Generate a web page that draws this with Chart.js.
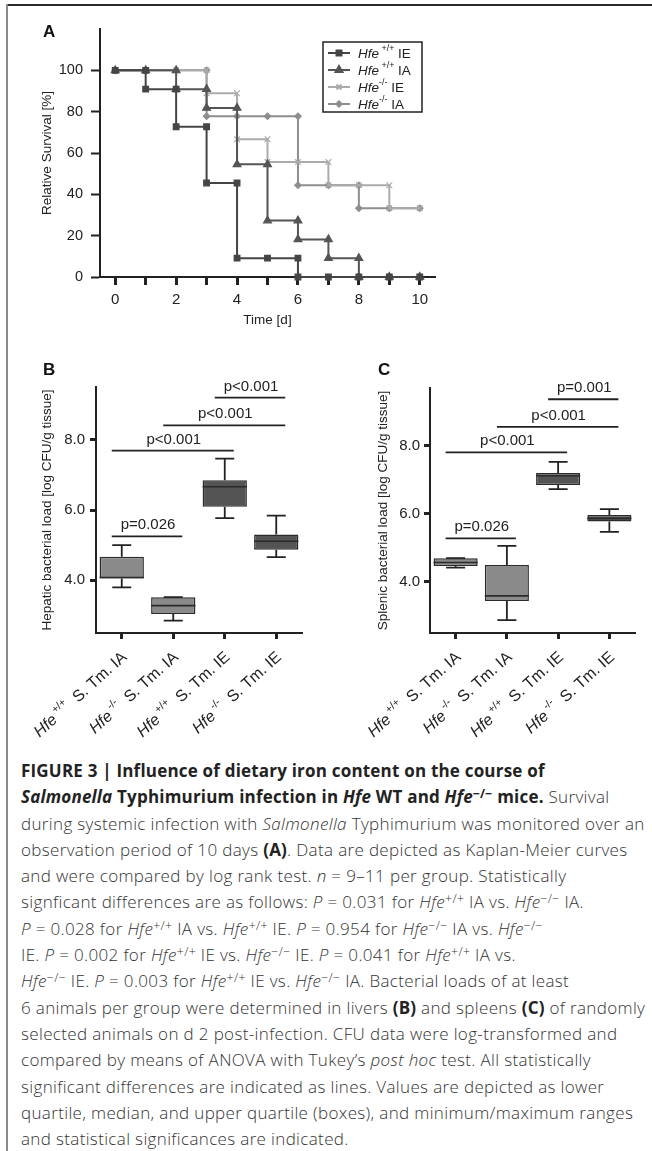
<!DOCTYPE html>
<html>
<head>
<meta charset="utf-8">
<script src="https://cdn.jsdelivr.net/npm/chart.js@4.4.1/dist/chart.umd.min.js"></script>
<style>
  html, body { margin: 0; padding: 0; background: #fff; }
  body { width: 652px; height: 1151px; overflow: hidden; position: relative; }
  .rule { position: absolute; z-index: 5; }
  canvas { position: absolute; }
  .panel { position: absolute; font: bold 17px "Liberation Sans", Arial, sans-serif; color: #111; line-height: 1; }
  #caption { position: absolute; left: 21px; top: 758px; font: 300 17px "Open Sans", sans-serif; line-height: 26.3px;
             letter-spacing: 0.35px; color: #333; white-space: nowrap; }
  #caption b { font-weight: 700; color: #222; letter-spacing: 0.2px; }
  #caption sup { font-size: 0.72em; line-height: 0; vertical-align: 0.45em; }
</style>
</head>
<body>
<canvas id="surv" width="460" height="340" style="left:0;top:0"></canvas>
<canvas id="hep" width="320" height="420" style="left:0;top:330px"></canvas>
<canvas id="spl" width="332" height="420" style="left:320px;top:330px"></canvas>
<div class="rule" style="left:6px;top:4px;width:646px;height:2px;background:#2a2a2a"></div>
<div class="rule" style="left:6px;top:4px;width:2px;height:1147px;background:#8a8a8a"></div>
<div class="panel" style="left:43px;top:23px">A</div>
<div class="panel" style="left:43px;top:361px">B</div>
<div class="panel" style="left:378px;top:361px">C</div>

<div id="caption">
<b>FIGURE 3 | Influence of dietary iron content on the course of</b><br>
<b><i>Salmonella</i> Typhimurium infection in <i>Hfe</i> WT and <i>Hfe</i><sup>−/−</sup> mice.</b> Survival<br>
during systemic infection with <i>Salmonella</i> Typhimurium was monitored over an<br>
observation period of 10 days <b>(A)</b>. Data are depicted as Kaplan-Meier curves<br>
and were compared by log rank test. <i>n</i> = 9–11 per group. Statistically<br>
signficant differences are as follows: <i>P</i> = 0.031 for <i>Hfe</i><sup>+/+</sup> IA vs. <i>Hfe</i><sup>−/−</sup> IA.<br>
<i>P</i> = 0.028 for <i>Hfe</i><sup>+/+</sup> IA vs. <i>Hfe</i><sup>+/+</sup> IE. <i>P</i> = 0.954 for <i>Hfe</i><sup>−/−</sup> IA vs. <i>Hfe</i><sup>−/−</sup><br>
IE. <i>P</i> = 0.002 for <i>Hfe</i><sup>+/+</sup> IE vs. <i>Hfe</i><sup>−/−</sup> IE. <i>P</i> = 0.041 for <i>Hfe</i><sup>+/+</sup> IA vs.<br>
<i>Hfe</i><sup>−/−</sup> IE. <i>P</i> = 0.003 for <i>Hfe</i><sup>+/+</sup> IE vs. <i>Hfe</i><sup>−/−</sup> IA. Bacterial loads of at least<br>
6 animals per group were determined in livers <b>(B)</b> and spleens <b>(C)</b> of randomly<br>
selected animals on d 2 post-infection. CFU data were log-transformed and<br>
compared by means of ANOVA with Tukey’s <i>post hoc</i> test. All statistically<br>
significant differences are indicated as lines. Values are depicted as lower<br>
quartile, median, and upper quartile (boxes), and minimum/maximum ranges<br>
and statistical significances are indicated.
</div>

<script>
const FONT = '"Liberation Sans", Arial, sans-serif';
Chart.defaults.font.family = FONT;
Chart.defaults.color = "#222";

// Survival (Kaplan-Meier), % alive per day
const days = [0, 1, 2, 3, 4, 5, 6, 7, 8, 9, 10];
const wtIE = [100, 90.9, 72.7, 45.5, 9.1, 9.1, 0, 0, 0, 0, 0];
const wtIA = [100, 100, 90.9, 81.8, 54.5, 27.3, 18.2, 9.1, 0, 0, 0];
const koIE = [100, 100, 100, 88.9, 66.7, 55.6, 55.6, 44.4, 44.4, 33.3, 33.3];
const koIA = [100, 100, 100, 77.8, 77.8, 77.8, 44.4, 44.4, 33.3, 33.3, 33.3];
const survTicks = [0, 20, 40, 60, 80, 100];

// Bacterial loads (log CFU/g), groups in axis order
const boxGenotype = ["+/+", "-/-", "+/+", "-/-"];
const boxDiet = ["IA", "IA", "IE", "IE"];
const loadTicks = [4, 6, 8];

const hepMin = [3.80, 2.85, 5.77, 4.66];
const hepQ1  = [4.05, 3.04, 6.09, 4.87];
const hepMed = [4.08, 3.28, 6.66, 5.11];
const hepQ3  = [4.67, 3.52, 6.85, 5.30];
const hepMax = [5.00, 3.52, 7.46, 5.84];

const splMin = [4.42, 2.88, 6.73, 5.47];
const splQ1  = [4.47, 3.44, 6.85, 5.78];
const splMed = [4.57, 3.59, 7.12, 5.87];
const splQ3  = [4.70, 4.50, 7.20, 5.97];
const splMax = [4.70, 5.06, 7.53, 6.14];

// significance bars: group from, group to, height, label
const sigFrom = [0, 0, 1, 2];
const sigTo   = [1, 2, 3, 3];
const hepSigY = [5.25, 7.69, 8.41, 9.2];
const hepSigText = ["p=0.026", "p<0.001", "p<0.001", "p<0.001"];
const splSigY = [5.28, 7.81, 8.56, 9.37];
const splSigText = ["p=0.026", "p<0.001", "p<0.001", "p=0.001"];

// draw a run of text pieces (italic / superscript) on a canvas
function richWidth(ctx, parts, size) {
  let w = 0;
  parts.forEach(p => {
    ctx.font = (p.i ? "italic " : "") + (p.sup ? size * 0.66 : size) + "px " + FONT;
    w += ctx.measureText(p.t).width;
  });
  return w;
}
function drawRich(ctx, parts, x, y, size, alignRight) {
  let cx = alignRight ? x - richWidth(ctx, parts, size) : x;
  parts.forEach(p => {
    ctx.font = (p.i ? "italic " : "") + (p.sup ? size * 0.66 : size) + "px " + FONT;
    ctx.fillText(p.t, cx, p.sup ? y - size * 0.38 : y);
    cx += ctx.measureText(p.t).width;
  });
}

function stepPoints(vals) {
  const pts = [{ x: days[0], y: vals[0] }];
  for (let i = 1; i < days.length; i++) {
    pts.push({ x: days[i], y: vals[i - 1] });
    if (vals[i] !== vals[i - 1]) pts.push({ x: days[i], y: vals[i] });
  }
  return pts;
}

const survSeries = [
  { geno: "+/+", diet: "IE", vals: wtIE, color: "#454545", style: "rect", r: 4 },
  { geno: "+/+", diet: "IA", vals: wtIA, color: "#555555", style: "triangle", r: 4.5 },
  { geno: "-/-", diet: "IE", vals: koIE, color: "#ababab", style: "crossRot", r: 4 },
  { geno: "-/-", diet: "IA", vals: koIA, color: "#8e8e8e", style: "rectRot", r: 3.2 }
];

const survLegend = {
  id: "survLegend",
  afterDraw(chart) {
    const ctx = chart.ctx;
    ctx.save();
    ctx.strokeStyle = "#222";
    ctx.lineWidth = 1.5;
    ctx.strokeRect(323, 42, 99, 70);
    survSeries.forEach((s, i) => {
      const y = 53 + i * 17;
      ctx.strokeStyle = s.color;
      ctx.fillStyle = s.color;
      ctx.lineWidth = 2;
      ctx.beginPath(); ctx.moveTo(328, y); ctx.lineTo(350, y); ctx.stroke();
      Chart.helpers.drawPoint(ctx, { pointStyle: s.style, radius: s.r - 0.5, rotation: 0, borderWidth: 1.2 }, 339, y);
      ctx.fillStyle = "#222";
      ctx.textBaseline = "middle";
      drawRich(ctx, [{ t: "Hfe", i: 1 }, { t: (s.geno === "+/+" ? " " : "") + s.geno, sup: 1 }, { t: " " + s.diet }], 358, y + 1, 13.5, false);
    });
    ctx.restore();
  }
};

new Chart(document.getElementById("surv"), {
  type: "line",
  data: {
    datasets: survSeries.map(s => ({
      data: stepPoints(s.vals),
      borderColor: s.color,
      backgroundColor: s.color,
      borderWidth: 2,
      pointStyle: s.style,
      pointRadius: s.r,
      pointBorderWidth: 1.2,
      pointBackgroundColor: s.color,
      pointBorderColor: s.color,
      tension: 0,
      clip: false
    }))
  },
  options: {
    responsive: false,
    animation: false,
    layout: { padding: { top: 29, right: 25, left: 0, bottom: 0 } },
    plugins: { legend: { display: false }, tooltip: { enabled: false } },
    scales: {
      x: {
        type: "linear", min: -0.5, max: 10.5,
        afterBuildTicks: s => { s.ticks = days.map(v => ({ value: v })); },
        ticks: { autoSkip: false, maxRotation: 0, padding: 6, font: { size: 15 }, callback: v => (v % 2 === 0 ? v : "") },
        grid: { drawOnChartArea: false, tickLength: 8, tickWidth: 3, tickColor: "#222" },
        border: { color: "#222", width: 2 },
        title: { display: true, text: "Time [d]", font: { size: 13.5 }, padding: { top: 0, bottom: 12 } },
        afterFit: s => { s.height = 63; }
      },
      y: {
        min: 0, max: 120,
        afterBuildTicks: s => { s.ticks = survTicks.map(v => ({ value: v })); },
        ticks: { padding: 8, font: { size: 14.5 } },
        grid: { drawOnChartArea: false, tickLength: 9, tickWidth: 2, tickColor: "#222" },
        border: { color: "#222", width: 2 },
        title: { display: true, text: "Relative Survival [%]", font: { size: 13.5 }, padding: { top: 39, bottom: 0 } },
        afterFit: s => { s.width = 100; }
      }
    }
  },
  plugins: [survLegend]
});

function boxChart(id, o) {
  const boxPlugin = {
    id: "boxParts",
    beforeDatasetsDraw(chart) {
      const ctx = chart.ctx, y = chart.scales.y;
      ctx.save();
      ctx.strokeStyle = "#222";
      ctx.lineWidth = 1.8;
      chart.getDatasetMeta(0).data.forEach((bar, i) => {
        const x = bar.x, top = y.getPixelForValue(o.max[i]), bot = y.getPixelForValue(o.min[i]);
        ctx.beginPath();
        ctx.moveTo(x, top); ctx.lineTo(x, y.getPixelForValue(o.q3[i]));
        ctx.moveTo(x, bot); ctx.lineTo(x, y.getPixelForValue(o.q1[i]));
        ctx.moveTo(x - 9.5, top); ctx.lineTo(x + 9.5, top);
        ctx.moveTo(x - 9.5, bot); ctx.lineTo(x + 9.5, bot);
        ctx.stroke();
      });
      ctx.restore();
    },
    afterDatasetsDraw(chart) {
      const ctx = chart.ctx, y = chart.scales.y, xs = chart.scales.x;
      ctx.save();
      ctx.strokeStyle = "#2a2a2a";
      ctx.lineWidth = 1.6;
      chart.getDatasetMeta(0).data.forEach((bar, i) => {
        const m = y.getPixelForValue(o.med[i]);
        ctx.beginPath(); ctx.moveTo(bar.x - bar.width / 2, m); ctx.lineTo(bar.x + bar.width / 2, m); ctx.stroke();
      });
      ctx.strokeStyle = "#222";
      ctx.lineWidth = 1.8;
      ctx.fillStyle = "#222";
      ctx.font = "15px " + FONT;
      ctx.textAlign = "center";
      ctx.textBaseline = "alphabetic";
      o.sigY.forEach((v, k) => {
        const x1 = xs.getPixelForValue(sigFrom[k]) - 10, x2 = xs.getPixelForValue(sigTo[k]) + 9;
        const py = y.getPixelForValue(v);
        ctx.beginPath(); ctx.moveTo(x1, py); ctx.lineTo(x2, py); ctx.stroke();
        ctx.fillText(o.sigText[k], (x1 + x2) / 2 + 1, py - 7);
      });
      ctx.restore();
    },
    afterDraw(chart) {
      const ctx = chart.ctx, xs = chart.scales.x;
      ctx.save();
      ctx.fillStyle = "#222";
      ctx.textBaseline = "middle";
      boxGenotype.forEach((g, i) => {
        const x = xs.getPixelForTick(i);
        ctx.save();
        ctx.translate(x + 3, xs.top + 22);
        ctx.rotate(-42 * Math.PI / 180);
        drawRich(ctx, [{ t: "Hfe", i: 1 }, { t: " " + g, sup: 1 }, { t: "  S. Tm. " + boxDiet[i] }], 0, 0, 16, true);
        ctx.restore();
      });
      ctx.restore();
    }
  };

  return new Chart(document.getElementById(id), {
    type: "bar",
    data: {
      labels: boxGenotype.map((g, i) => "Hfe" + g + " S. Tm. " + boxDiet[i]),
      datasets: [{
        data: o.q1.map((v, i) => [v, o.q3[i]]),
        backgroundColor: ["#8a8a8a", "#8a8a8a", "#545454", "#545454"],
        borderColor: "#2b2b2b",
        borderWidth: 1.5,
        borderSkipped: false,
        barPercentage: 0.86,
        categoryPercentage: 1
      }]
    },
    options: {
      responsive: false,
      animation: false,
      layout: { padding: { top: o.padTop, right: o.padRight, left: 0, bottom: 0 } },
      plugins: { legend: { display: false }, tooltip: { enabled: false } },
      scales: {
        x: {
          ticks: { callback: () => "" },
          grid: { offset: false, drawOnChartArea: false, tickLength: 6, tickWidth: 3, tickColor: "#222" },
          border: { color: "#222", width: 2 },
          afterFit: s => { s.height = 117; }
        },
        y: {
          min: 2.5, max: o.yMax,
          afterBuildTicks: s => { s.ticks = loadTicks.map(v => ({ value: v })); },
          ticks: { padding: o.tickPad, font: { size: 15 }, callback: v => v.toFixed(1) },
          grid: { drawOnChartArea: false, tickLength: 6, tickWidth: 3, tickColor: "#222" },
          border: { color: "#222", width: 2 },
          title: { display: true, text: o.title, font: { size: 13.5 }, padding: { top: o.titlePad, bottom: 0 } },
          afterFit: s => { s.width = o.yWidth; }
        }
      }
    },
    plugins: [boxPlugin]
  });
}

boxChart("hep", {
  min: hepMin, q1: hepQ1, med: hepMed, q3: hepQ3, max: hepMax,
  sigY: hepSigY, sigText: hepSigText,
  title: "Hepatic bacterial load [log CFU/g tissue]",
  yMax: 9.5, padTop: 57, padRight: 18, yWidth: 96, tickPad: 5, titlePad: 39
});
boxChart("spl", {
  min: splMin, q1: splQ1, med: splMed, q3: splQ3, max: splMax,
  sigY: splSigY, sigText: splSigText,
  title: "Splenic bacterial load [log CFU/g tissue]",
  yMax: 9.7, padTop: 58, padRight: 17, yWidth: 110, tickPad: 4, titlePad: 55
});
</script>
</body>
</html>
